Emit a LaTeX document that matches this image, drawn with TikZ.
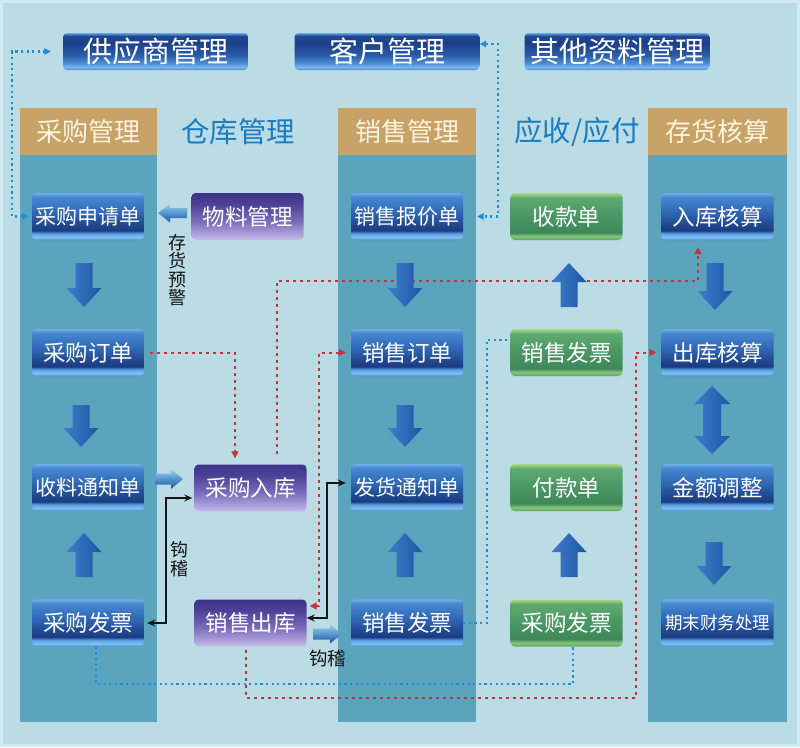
\documentclass[tikz,border=0pt]{standalone}
\usepackage{fontspec}
\setmainfont{Noto Sans CJK SC}
\usetikzlibrary{arrows.meta,calc}
\definecolor{bg}{HTML}{BCDCE5}
\definecolor{bgedge}{HTML}{D2EAF1}
\definecolor{colbg}{HTML}{5BA4BE}
\definecolor{hdr}{HTML}{C8A266}
\definecolor{hdrtxt}{HTML}{FBF4DE}
\definecolor{headblue}{HTML}{1A7CC4}
\definecolor{dotblue}{HTML}{1E8ED8}
\definecolor{dotred}{HTML}{C8323A}
\definecolor{blk}{HTML}{151515}
% blue button
\definecolor{bb0}{HTML}{4C90D4}\definecolor{bb1}{HTML}{7FC2F2}\definecolor{bb2}{HTML}{5A9EE0}
\definecolor{bb3}{HTML}{1B3B83}\definecolor{bb4}{HTML}{22498F}\definecolor{bb5}{HTML}{2D62AE}
\definecolor{bb6}{HTML}{3C7AC6}\definecolor{bb7}{HTML}{4A88D0}\definecolor{bb8}{HTML}{70B0EA}
% top button
\definecolor{tb0}{HTML}{4A8ED2}\definecolor{tb1}{HTML}{78B8EE}\definecolor{tb2}{HTML}{4E90D6}
\definecolor{tb3}{HTML}{2A5CA8}\definecolor{tb4}{HTML}{1C3E88}\definecolor{tb5}{HTML}{214A94}
\definecolor{tb6}{HTML}{6AA4DE}
% green button
\definecolor{gb0}{HTML}{5FA468}\definecolor{gb1}{HTML}{86C67A}\definecolor{gb2}{HTML}{3E8858}
\definecolor{gb3}{HTML}{4A9664}\definecolor{gb4}{HTML}{5EAA70}\definecolor{gb5}{HTML}{A8DA88}
% purple button
\definecolor{pb0}{HTML}{C8C0EA}\definecolor{pb1}{HTML}{AEA2DC}\definecolor{pb2}{HTML}{7A6CBA}
\definecolor{pb3}{HTML}{4E4298}\definecolor{pb4}{HTML}{3C3286}
% arrows
\definecolor{ar1}{HTML}{3E7ECA}\definecolor{ar2}{HTML}{92D2F4}\definecolor{ar3}{HTML}{1C56A4}
\pgfdeclareverticalshading{bluebtn}{100bp}{color(0bp)=(bb0); color(25bp)=(bb0); color(28bp)=(bb1); color(32bp)=(bb2); color(35bp)=(bb3); color(42bp)=(bb4); color(52bp)=(bb5); color(64bp)=(bb6); color(71bp)=(bb7); color(75bp)=(bb8); color(100bp)=(bb8)}
\pgfdeclareverticalshading{topbtn}{100bp}{color(0bp)=(tb0); color(25bp)=(tb0); color(29bp)=(tb1); color(34bp)=(tb2); color(45bp)=(tb3); color(62bp)=(tb4); color(71bp)=(tb5); color(75bp)=(tb6); color(100bp)=(tb6)}
\pgfdeclareverticalshading{greenbtn}{100bp}{color(0bp)=(gb0); color(25bp)=(gb0); color(29bp)=(gb1); color(33bp)=(gb2); color(50bp)=(gb3); color(70bp)=(gb4); color(75bp)=(gb5); color(100bp)=(gb5)}
\pgfdeclareverticalshading{purplebtn}{100bp}{color(0bp)=(pb0); color(25bp)=(pb0); color(31bp)=(pb1); color(45bp)=(pb2); color(63bp)=(pb3); color(75bp)=(pb4); color(100bp)=(pb4)}
\tikzset{
  box/.style={rectangle, minimum width=112pt, minimum height=47pt, inner sep=0pt,
    text=white, rounded corners=4pt, shade},
  bbox/.style={box, shading=bluebtn, font=\fontsize{22.5}{24}\selectfont},
  gbox/.style={box, shading=greenbtn, font=\fontsize{22.5}{24}\selectfont},
  pbox/.style={box, shading=purplebtn, font=\fontsize{22.5}{24}\selectfont},
  tbox/.style={box, minimum width=185pt, minimum height=37pt, shading=topbtn,
    font=\fontsize{29}{30}\selectfont},
  fivech/.style={font=\fontsize{21}{22}\selectfont},
  sixch/.style={font=\fontsize{17.5}{18}\selectfont},
  hdrtext/.style={text=hdrtxt, inner sep=0pt, font=\fontsize{26}{27}\selectfont},
  bluehead/.style={text=headblue, inner sep=0pt, font=\fontsize{28.5}{29}\selectfont},
  vlab/.style={text=blk, inner sep=0pt, align=center, font=\fontsize{18}{18.4}\selectfont},
  hlab/.style={text=blk, inner sep=0pt, font=\fontsize{18.5}{19}\selectfont},
  bluedot/.style={draw=dotblue, line width=2.1pt, dash pattern=on 2.2pt off 3.4pt,
    >={Triangle[length=6.5pt,width=6.5pt]}},
  reddot/.style={draw=dotred, line width=2pt, dash pattern=on 3pt off 4pt,
    >={Triangle[length=7pt,width=7pt]}},
  blkline/.style={draw=blk, line width=1.9pt, >={Stealth[length=8pt,width=7pt]}},
  vshade/.style={left color=ar1, middle color=ar2, right color=ar3},
  hshade/.style={top color=ar2, middle color=ar1, bottom color=ar3},
  pics/varr/.style n args={5}{code={
    \shade[vshade] (-#2,{-(#5)*(#1)/2}) -- (-#2,{(#5)*((#1)/2-(#4))}) -- (-#3,{(#5)*((#1)/2-(#4))})
      -- (0,{(#5)*(#1)/2}) -- (#3,{(#5)*((#1)/2-(#4))}) -- (#2,{(#5)*((#1)/2-(#4))})
      -- (#2,{-(#5)*(#1)/2}) -- cycle;
  }},
  pics/harr/.style n args={5}{code={
    \shade[hshade] ({-(#5)*(#1)/2},-#2) -- ({(#5)*((#1)/2-(#4))},-#2) -- ({(#5)*((#1)/2-(#4))},-#3)
      -- ({(#5)*(#1)/2},0) -- ({(#5)*((#1)/2-(#4))},#3) -- ({(#5)*((#1)/2-(#4))},#2)
      -- ({-(#5)*(#1)/2},#2) -- cycle;
  }},
}
\begin{document}
\begin{tikzpicture}[x=1pt,y=-1pt]
\useasboundingbox (0,0) rectangle (800,747);
\fill[bgedge] (0,0) rectangle (800,747);
\fill[bg] (3,3) rectangle (797,744);
% columns
\fill[colbg] (20,108) rectangle (157,722);
\fill[colbg] (338,108) rectangle (476,722);
\fill[colbg] (648,108) rectangle (787,722);
\fill[hdr] (20,108) rectangle (157,155);
\fill[hdr] (338,108) rectangle (476,155);
\fill[hdr] (648,108) rectangle (787,155);
\node[hdrtext] (h1) at (88.5,131.5) {采购管理};
\node[hdrtext] (h3) at (407,131.5) {销售管理};
\node[hdrtext] (h5) at (717.5,131.5) {存货核算};
\node[bluehead] (h2) at (238,132) {仓库管理};
\node[bluehead] (h4) at (577,132) {应收/应付};
% nodes
\node[tbox] (sup) at (155.5,51.5) {供应商管理};
\node[tbox] (cust) at (387,51.5) {客户管理};
\node[tbox] (other) at (617,51.5) {其他资料管理};
\node[bbox,fivech] (a1) at (88,216.5) {采购申请单};
\node[bbox] (a2) at (88,352.5) {采购订单};
\node[bbox,fivech] (a3) at (88,487.5) {收料通知单};
\node[bbox] (a4) at (88,623) {采购发票};
\node[pbox] (w1) at (247.5,216.5) {物料管理};
\node[pbox] (w2) at (250.5,488) {采购入库};
\node[pbox] (w3) at (250.5,623) {销售出库};
\node[bbox,fivech] (s1) at (407,216.5) {销售报价单};
\node[bbox] (s2) at (407,352.5) {销售订单};
\node[bbox,fivech] (s3) at (407,487.5) {发货通知单};
\node[bbox] (s4) at (407,623) {销售发票};
\node[gbox] (f1) at (566.5,216.5) {收款单};
\node[gbox] (f2) at (566.5,352.5) {销售发票};
\node[gbox] (f3) at (566.5,487.5) {付款单};
\node[gbox] (f4) at (566.5,623) {采购发票};
\node[bbox] (c1) at (717.5,216.5) {入库核算};
\node[bbox] (c2) at (717.5,352.5) {出库核算};
\node[bbox] (c3) at (717.5,487.5) {金额调整};
\node[bbox,sixch] (c4) at (717.5,623) {期末财务处理};
% labels
\node[vlab] (l1) at (177,270) {存\\货\\预\\警};
\node[vlab] (l2) at (179.5,559) {钩\\稽};
\node[hlab] (l3) at (327.5,658) {钩稽};
% helper coordinates
\coordinate (bL) at (12,0);
\coordinate (bR) at (498,0);
\coordinate (bS) at (487,0);
\coordinate (bB) at (0,684);
\coordinate (rT) at (0,281);
\coordinate (rB) at (636,698);
\coordinate (rM) at (319,0);
\coordinate (kL) at (166,0);
\coordinate (kR) at (327,0);
\coordinate (custE) at ([yshift=7.5pt]cust.east);
\coordinate (f2W) at ([yshift=12.5pt]f2.west);
\coordinate (a4S) at ([xshift=8pt]a4.south);
\coordinate (f4S) at ([xshift=6.5pt]f4.south);
\coordinate (w2N1) at ([xshift=-15.5pt]w2.north);
\coordinate (w2N2) at ([xshift=26.5pt]w2.north);
\coordinate (c1S) at ([xshift=-19.5pt]c1.south);
\coordinate (w3S) at ([xshift=-4.5pt]w3.south);
\coordinate (w3E) at ([yshift=17pt]w3.east);
\coordinate (w2W) at ([yshift=-10pt]w2.west);
\coordinate (w3E2) at ([yshift=5pt]w3.east);
\coordinate (s3W) at ([yshift=4.5pt]s3.west);
% blue dotted connectors
\draw[bluedot,<->,shorten <=3pt,shorten >=12pt] (a1.west) -- (a1.west -| bL) |- (sup.west);
\draw[bluedot,<->,shorten >=14pt] (custE) -| (bR |- s1.east) -- (s1.east);
\draw[bluedot] (s4.east) -- (s4.east -| bS) |- (f2W);
\draw[bluedot] (a4S) -- (a4S |- bB) -| (f4S);
% red dotted connectors
\draw[reddot,->,shorten <=6pt,shorten >=6pt] (a2.east) -| (w2N1);
\draw[reddot,->,shorten <=10pt,shorten >=7pt] (w2N2) -- (w2N2 |- rT) -| (c1S);
\draw[reddot,->,shorten <=3pt,shorten >=5pt] (w3S) |- (rB) |- (c2.west);
\draw[reddot,<->,shorten <=3pt,shorten >=5pt] (w3E) -- (w3E -| rM) |- (s2.west);
% black connectors
\draw[blkline,<->,shorten <=3pt,shorten >=2pt] (a4.east) -- (a4.east -| kL) |- (w2W);
\draw[blkline,<->,shorten >=5pt] (w3E2) -- (w3E2 -| kR) |- (s3W);
% fat arrows
\pic at (84,285) {varr={44}{8.5}{17.5}{19}{1}};
\pic at (81,426) {varr={42}{8.5}{17.5}{19}{1}};
\pic at (84,555) {varr={44}{8.5}{17.5}{19}{-1}};
\pic at (405,285) {varr={44}{8.5}{17.5}{19}{1}};
\pic at (405,426) {varr={42}{8.5}{17.5}{19}{1}};
\pic at (405,555) {varr={44}{8.5}{17.5}{19}{-1}};
\pic at (569,285) {varr={44}{8.5}{17.5}{19}{-1}};
\pic at (569,555) {varr={44}{8.5}{17.5}{19}{-1}};
\pic at (715,286.5) {varr={47}{8.5}{17.5}{19}{1}};
\pic at (714,563.5) {varr={43}{8.5}{17.5}{19}{1}};
\shade[vshade] (712,386) -- (730,404) -- (721,404) -- (721,436) -- (730,436) -- (712,454)
  -- (694,436) -- (703,436) -- (703,404) -- (694,404) -- cycle;
\pic at (172.5,213) {harr={29}{5}{9.5}{12}{-1}};
\pic at (169,479) {harr={28}{5.5}{10}{12}{1}};
\pic at (327.5,634) {harr={29}{5.5}{9.5}{12}{1}};
\end{tikzpicture}
\end{document}
